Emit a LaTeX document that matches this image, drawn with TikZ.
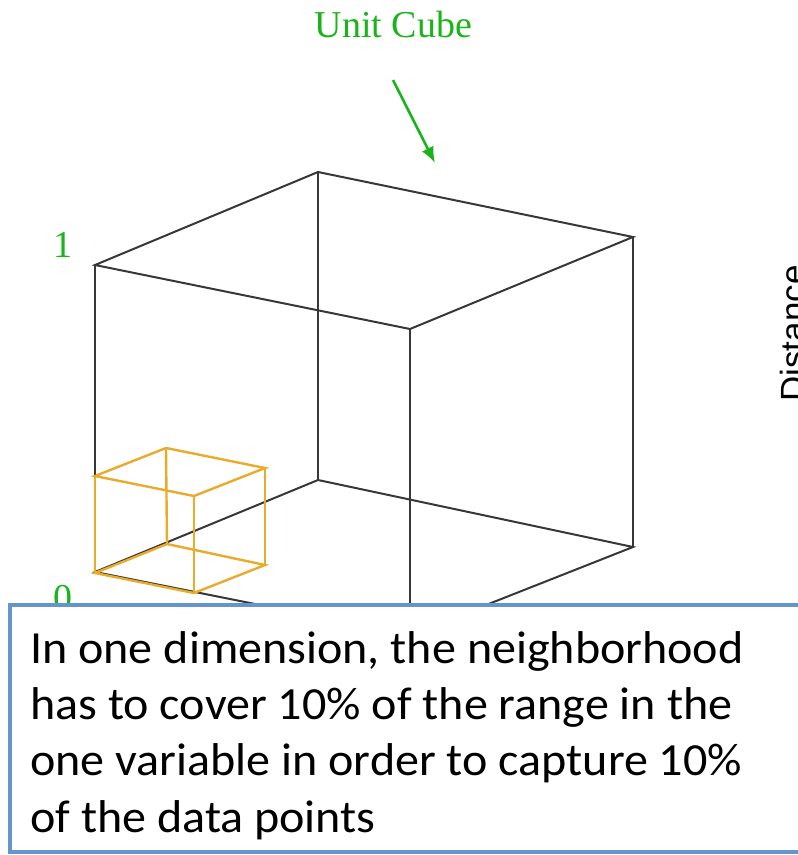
\documentclass[tikz,border=0pt]{standalone}
\usepackage{fontspec}
\usetikzlibrary{arrows.meta}
\setmainfont{Liberation Serif}
\newfontfamily\boxfont[FakeStretch=1.045]{Carlito}
\newfontfamily\axisfont{Liberation Sans}
\definecolor{cubeline}{RGB}{55,55,55}
\definecolor{smallcube}{RGB}{234,170,42}
\definecolor{labelgreen}{RGB}{25,180,25}
\definecolor{boxblue}{RGB}{100,150,205}
\tikzset{
  edge/.style={draw=cubeline, line width=2pt},
  sedge/.style={draw=smallcube, line width=2.4pt},
  glabel/.style={text=labelgreen, font=\fontsize{38}{40}\selectfont, inner sep=0pt},
  boxtext/.style={font=\boxfont\fontsize{46}{56}\selectfont, anchor=base west, inner sep=0pt},
}
\begin{document}
\begin{tikzpicture}[x=1pt,y=-1pt]
\useasboundingbox (0,0) rectangle (798,855);
\clip (0,0) rectangle (798,855);
% big cube
\coordinate (A) at (95,265);
\coordinate (B) at (318,172);
\coordinate (C) at (633,237);
\coordinate (D) at (410,329);
\coordinate (E) at (95,572);
\coordinate (F) at (318,480);
\coordinate (G) at (633,547);
\coordinate (H) at (410,635);
\draw[edge] (A) -- (B) -- (C) -- (D) -- cycle;
\draw[edge] (A) -- (E);
\draw[edge] (B) -- (F);
\draw[edge] (C) -- (G);
\draw[edge] (D) -- (H);
\draw[edge] (E) -- (F) -- (G) -- (H) -- cycle;
% small cube
\coordinate (a) at (95,476);
\coordinate (b) at (166,448);
\coordinate (c) at (265,468);
\coordinate (d) at (194,496);
\coordinate (e) at (95,573);
\coordinate (f) at (167,544);
\coordinate (g) at (265,565);
\coordinate (h) at (194,593);
\draw[sedge] (a) -- (b) -- (c) -- (d) -- cycle;
\draw[sedge] (e) -- (f) -- (g) -- (h) -- cycle;
\draw[sedge] (a) -- (e);
\draw[sedge] (b) -- (f);
\draw[sedge] (c) -- (g);
\draw[sedge] (d) -- (h);
% labels
\node[glabel, anchor=base] (title) at (393.5,37) {Unit Cube};
\coordinate (arrS) at (393,80);
\coordinate (arrE) at (435,163);
\draw[draw=labelgreen, line width=2.6pt, -{Latex[length=16pt,width=13pt]}] (arrS) -- (arrE);
\node[glabel, anchor=base] (one) at (63,257) {1};
\node[glabel, anchor=base] (zero) at (63,610) {0};
\node[font=\axisfont\fontsize{35}{38}\selectfont, rotate=90, anchor=base, inner sep=0pt] (dist) at (805,333.5) {Distance};
% text box
\draw[draw=boxblue, line width=4pt, fill=white] (9.5,605) rectangle (812,852);
\node[boxtext] (t1) at (30,663) {In one dimension, the neighborhood};
\node[boxtext] (t2) at (30,719.3) {has to cover 10\% of the range in the};
\node[boxtext] (t3) at (30,775.6) {one variable in order to capture 10\%};
\node[boxtext] (t4) at (30,832) {of the data points};
\end{tikzpicture}
\end{document}
